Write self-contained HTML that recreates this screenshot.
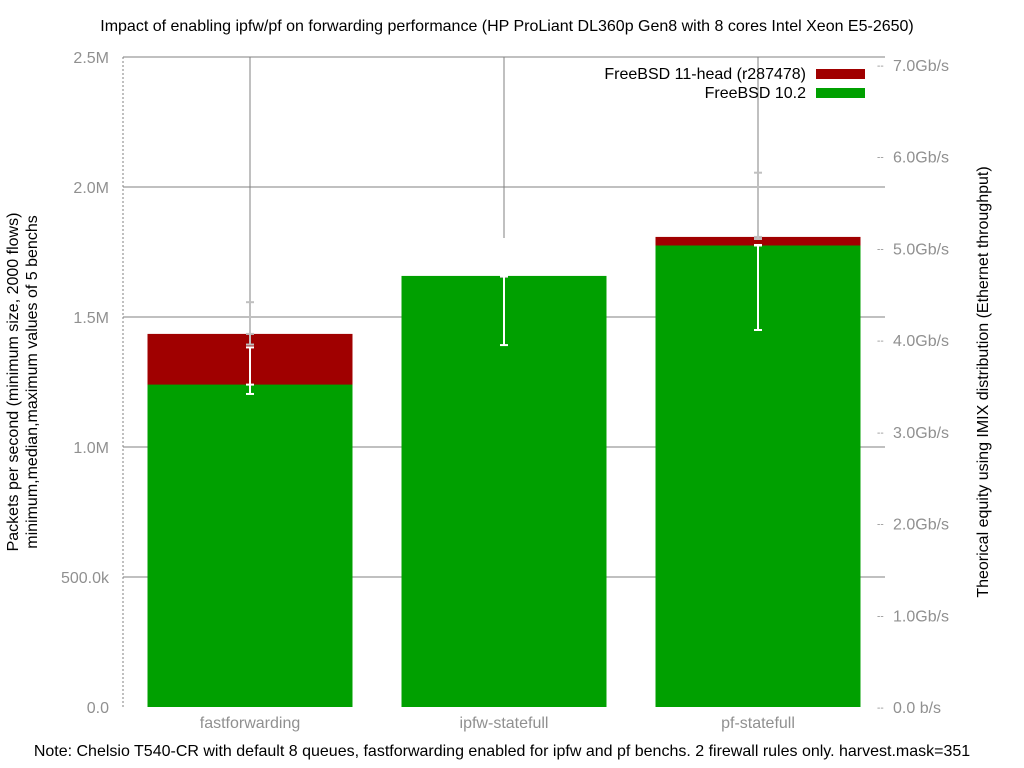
<!DOCTYPE html>
<html><head><meta charset="utf-8"><style>
body{margin:0;background:#fff;}
svg{display:block;font-family:"Liberation Sans",sans-serif;}
</style></head><body>
<svg id="chart" width="1024" height="768">
<text x="507" y="31" font-size="16" text-anchor="middle" fill="#000">Impact of enabling ipfw/pf on forwarding performance (HP ProLiant DL360p Gen8 with 8 cores Intel Xeon E5-2650)</text>
<g id="grid"></g>
<g id="bars"></g>
<g id="errs"></g>
<g id="axes"></g>
<g>
<text x="806" y="79" font-size="16" text-anchor="end">FreeBSD 11-head (r287478)</text>
<rect x="816" y="69" width="49" height="10" fill="#a00000"/>
<text x="806" y="98" font-size="16" text-anchor="end">FreeBSD 10.2</text>
<rect x="816" y="88" width="49" height="10" fill="#00a000"/>
</g>
<text transform="translate(18,382) rotate(-90)" font-size="16" text-anchor="middle">Packets per second (minimum size, 2000 flows)</text>
<text transform="translate(37,382) rotate(-90)" font-size="16" text-anchor="middle">minimum,median,maximum values of 5 benchs</text>
<text transform="translate(988,382) rotate(-90)" font-size="16" text-anchor="middle">Theorical equity using IMIX distribution (Ethernet throughput)</text>
<text x="502" y="756" font-size="16" text-anchor="middle">Note: Chelsio T540-CR with default 8 queues, fastforwarding enabled for ipfw and pf benchs. 2 firewall rules only. harvest.mask=351</text>
</svg>
<script>
const categories=["fastforwarding","ipfw-statefull","pf-statefull"];
const head11Median=[1.435e6,1.655e6,1.808e6];
const head11Min=[1.394e6,1.655e6,1.80e6];
const head11Max=[1.557e6,1.80e6,2.055e6];
const v102Median=[1.240e6,1.658e6,1.775e6];
const v102Min=[1.204e6,1.392e6,1.450e6];
const v102Max=[1.383e6,1.80e6,1.777e6];
const yTicks=[0,0.5e6,1e6,1.5e6,2e6,2.5e6];
const yTickLabels=["0.0","500.0k","1.0M","1.5M","2.0M","2.5M"];
const y2Ticks=[0,1,2,3,4,5,6,7];
const y2TickLabels=["0.0 b/s","1.0Gb/s","2.0Gb/s","3.0Gb/s","4.0Gb/s","5.0Gb/s","6.0Gb/s","7.0Gb/s"];

const L=123,R=885,T=57,B=707;
const y=v=>B-(v/2.5e6)*(B-T);
const y2=v=>B-(v/7)*(B-65);
const band=(R-L)/categories.length;
const xc=i=>L+band*(i+0.5);
const bw=205;
const NS="http://www.w3.org/2000/svg";
function mk(tag,attrs,parent){const e=document.createElementNS(NS,tag);for(const k in attrs)e.setAttribute(k,attrs[k]);document.getElementById(parent).appendChild(e);return e;}

yTicks.forEach((t,i)=>{
  if(t>0){const g=mk('line',{x1:L,x2:R,y1:y(t),y2:y(t),stroke:'#808080','stroke-width':1},'grid');
  
  }
  const tx=mk('text',{x:L-14,y:y(t)+6,'font-size':16,'text-anchor':'end',fill:'#909090'},'axes');
  tx.textContent=yTickLabels[i];
  
  
});
y2Ticks.forEach((t,i)=>{
  const d=mk('text',{x:R-8,y:y2(t)+4,'font-size':10,fill:'#909090'},'axes');
  d.textContent='--';
  
  
  const tx=mk('text',{x:R+8,y:y2(t)+6,'font-size':16,fill:'#909090'},'axes');
  tx.textContent=y2TickLabels[i];
  
  
});
const ax=mk('line',{x1:L,x2:L,y1:T,y2:B,stroke:'#808080','stroke-dasharray':'2,2'},'axes');


categories.forEach((c,i)=>{
  const vg=mk('line',{x1:xc(i),x2:xc(i),y1:T,y2:B,stroke:'#808080'},'grid');
  
  
  const r1=mk('rect',{x:xc(i)-bw/2,y:y(head11Median[i]),width:bw,height:B-y(head11Median[i]),fill:'#a00000'},'bars');
  
  
  const r2=mk('rect',{x:xc(i)-bw/2,y:y(v102Median[i]),width:bw,height:B-y(v102Median[i]),fill:'#00a000'},'bars');
  
  
  const tx=mk('text',{x:xc(i),y:728,'font-size':16,'text-anchor':'middle',fill:'#909090'},'axes');
  tx.textContent=c;
  
  
  [[head11Min,head11Max,head11Median,'#c0c0c0','11head'],[v102Min,v102Max,v102Median,'#ffffff','102']].forEach(s=>{
    const g=mk('g',{stroke:s[3],'stroke-width':2},'errs');
    
    
    const x=xc(i);
    const a=document.createElementNS(NS,'line');a.setAttribute('x1',x);a.setAttribute('x2',x);a.setAttribute('y1',y(s[0][i]));a.setAttribute('y2',y(s[1][i]));g.appendChild(a);
    [s[0][i],s[1][i],s[2][i]].forEach(v=>{const t=document.createElementNS(NS,'line');t.setAttribute('x1',x-4);t.setAttribute('x2',x+4);t.setAttribute('y1',y(v));t.setAttribute('y2',y(v));g.appendChild(t);});
  });
});
</script>
</body></html>
